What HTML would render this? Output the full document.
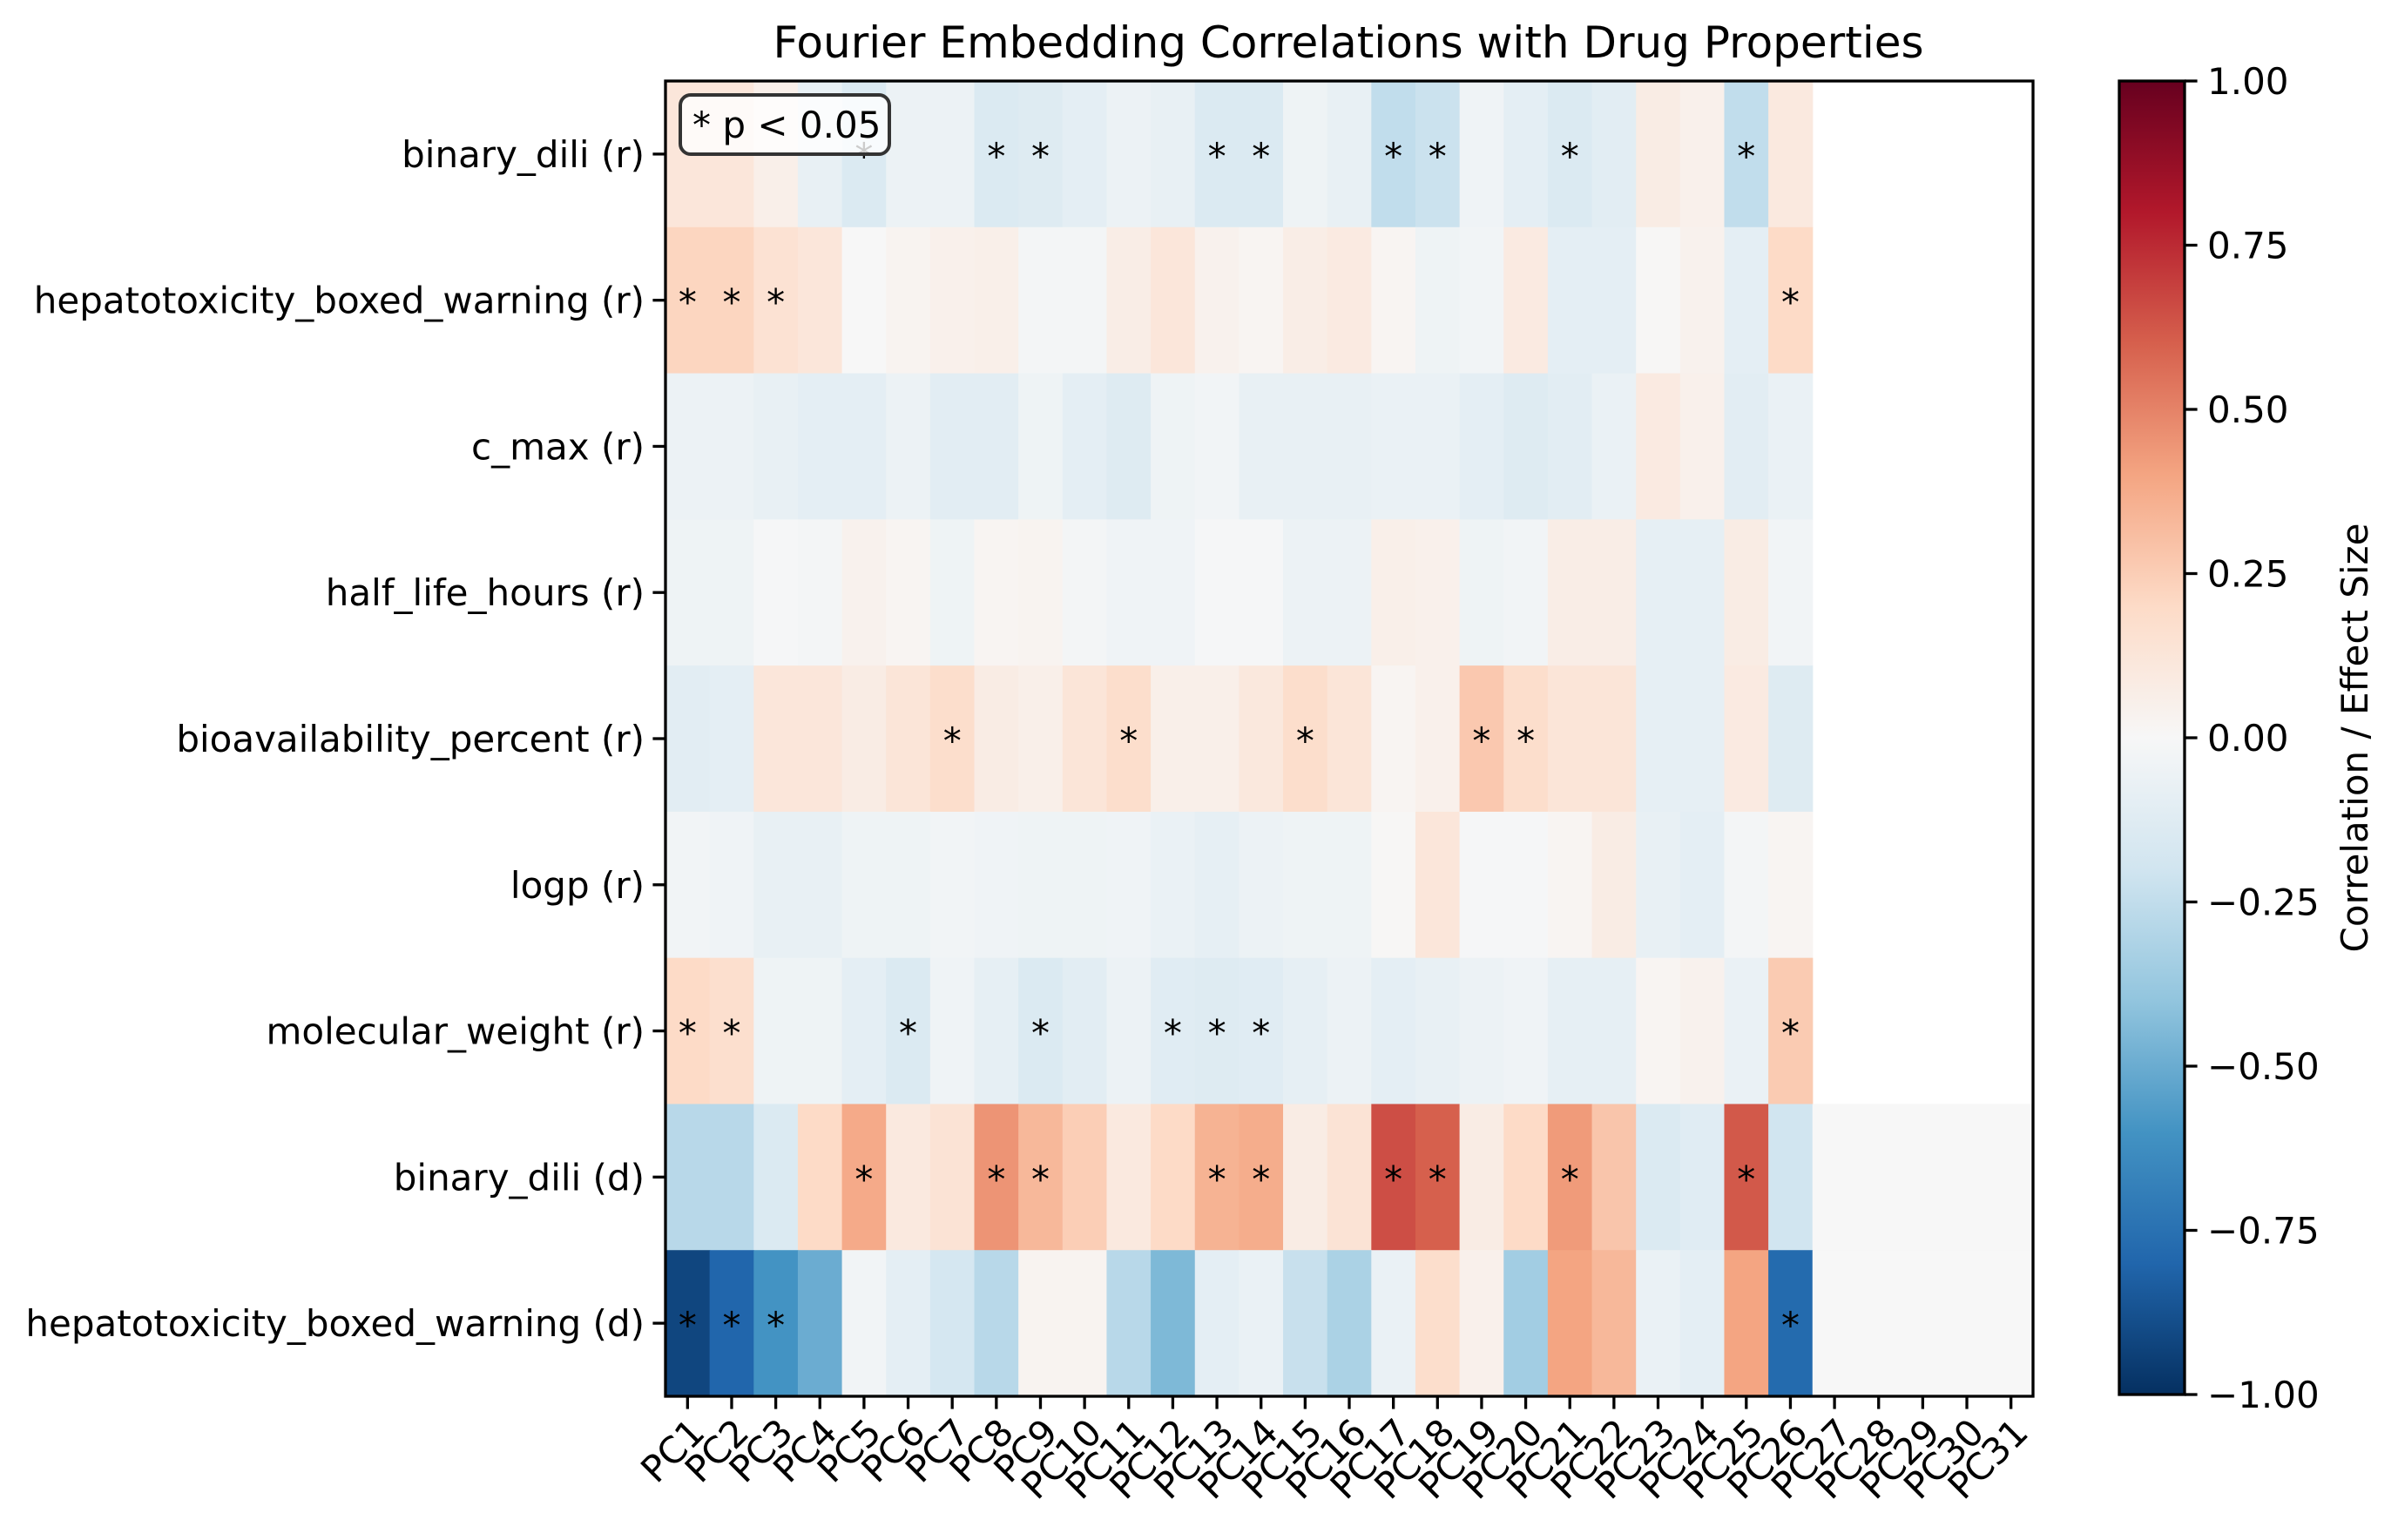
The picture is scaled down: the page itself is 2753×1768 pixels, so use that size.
<!DOCTYPE html>
<html><head><meta charset="utf-8">
<style>
html,body{margin:0;padding:0;background:#fff;}
svg{display:block;font-family:"DejaVu Sans","Liberation Sans",sans-serif;}
</style></head>
<body>
<svg id="chart" width="2753" height="1768" viewBox="0 0 2753 1768" xmlns="http://www.w3.org/2000/svg">
  <rect x="0" y="0" width="2753" height="1768" fill="#fff"/>
  <text x="1548" y="66" font-size="50" text-anchor="middle">Fourier Embedding Correlations with Drug Properties</text>
  <g id="cells"></g>
  <g id="stars"></g>
  <g id="legend">
    <rect x="781" y="109" width="240" height="68" rx="12" ry="12" fill="#fff" fill-opacity="0.8" stroke="#333" stroke-width="4"/>
    <text x="795" y="158" font-size="42">* p &lt; 0.05</text>
  </g>
  <g id="axes"></g>
  <g id="cbar"></g>
  <text transform="translate(2718,847) rotate(-90)" font-size="42" text-anchor="middle">Correlation / Effect Size</text>
</svg>
<script>
const rowLabels = ["binary_dili (r)","hepatotoxicity_boxed_warning (r)","c_max (r)","half_life_hours (r)","bioavailability_percent (r)","logp (r)","molecular_weight (r)","binary_dili (d)","hepatotoxicity_boxed_warning (d)"];
const colLabels = ["PC1","PC2","PC3","PC4","PC5","PC6","PC7","PC8","PC9","PC10","PC11","PC12","PC13","PC14","PC15","PC16","PC17","PC18","PC19","PC20","PC21","PC22","PC23","PC24","PC25","PC26","PC27","PC28","PC29","PC30","PC31"];
const row0 = [0.12,0.12,0.06,-0.08,-0.15,-0.06,-0.06,-0.15,-0.13,-0.1,-0.06,-0.08,-0.15,-0.15,-0.05,-0.08,-0.25,-0.22,-0.04,-0.1,-0.15,-0.11,0.08,0.05,-0.25,0.1,null,null,null,null,null];
const row1 = [0.22,0.22,0.15,0.12,0.0,0.03,0.05,0.06,-0.02,-0.02,0.07,0.12,0.04,0.02,0.07,0.09,0.02,-0.05,-0.03,0.09,-0.1,-0.1,0.01,0.04,-0.1,0.2,null,null,null,null,null];
const row2 = [-0.06,-0.06,-0.08,-0.1,-0.1,-0.06,-0.11,-0.11,-0.05,-0.1,-0.13,-0.05,-0.03,-0.08,-0.08,-0.08,-0.07,-0.07,-0.1,-0.13,-0.11,-0.07,0.09,0.05,-0.11,-0.07,null,null,null,null,null];
const row3 = [-0.05,-0.05,-0.01,-0.02,0.04,0.02,-0.05,0.02,0.03,-0.02,-0.04,-0.04,-0.01,-0.01,-0.06,-0.06,0.06,0.05,-0.05,-0.03,0.07,0.07,-0.09,-0.09,0.08,-0.03,null,null,null,null,null];
const row4 = [-0.11,-0.1,0.12,0.12,0.08,0.13,0.18,0.08,0.06,0.13,0.18,0.06,0.06,0.11,0.18,0.13,0.02,0.05,0.27,0.18,0.13,0.13,-0.09,-0.09,0.09,-0.13,null,null,null,null,null];
const row5 = [-0.03,-0.04,-0.08,-0.08,-0.05,-0.05,-0.03,-0.04,-0.05,-0.05,-0.04,-0.07,-0.09,-0.06,-0.05,-0.05,0.01,0.12,-0.01,-0.01,0.02,0.08,-0.08,-0.1,-0.02,0.02,null,null,null,null,null];
const row6 = [0.2,0.17,-0.05,-0.05,-0.1,-0.15,-0.04,-0.09,-0.15,-0.11,-0.06,-0.12,-0.13,-0.12,-0.09,-0.06,-0.1,-0.08,-0.06,-0.04,-0.09,-0.09,0.02,0.04,-0.07,0.26,null,null,null,null,null];
const row7 = [-0.28,-0.28,-0.15,0.2,0.38,0.1,0.14,0.45,0.33,0.25,0.1,0.2,0.35,0.37,0.08,0.14,0.65,0.6,0.08,0.2,0.43,0.28,-0.15,-0.12,0.62,-0.2,0,0,0,0,0];
const row8 = [-0.92,-0.8,-0.6,-0.5,-0.03,-0.1,-0.18,-0.28,0.03,0.03,-0.28,-0.45,-0.1,-0.07,-0.23,-0.32,-0.07,0.18,0.05,-0.35,0.4,0.33,-0.07,-0.1,0.4,-0.78,0,0,0,0,0];
const values = [row0,row1,row2,row3,row4,row5,row6,row7,row8];
const sig0 = ["PC5","PC8","PC9","PC13","PC14","PC17","PC18","PC21","PC25"];
const sig1 = ["PC1","PC2","PC3","PC26"];
const sig4 = ["PC7","PC11","PC15","PC19","PC20"];
const sig6 = ["PC1","PC2","PC6","PC9","PC12","PC13","PC14","PC26"];
const sig7 = ["PC5","PC8","PC9","PC13","PC14","PC17","PC18","PC21","PC25"];
const sig8 = ["PC1","PC2","PC3","PC26"];
const sigRows = [sig0,sig1,[],[],sig4,[],sig6,sig7,sig8];
const cbarTicks = [1.0,0.75,0.5,0.25,0.0,-0.25,-0.5,-0.75,-1.0];

const NS="http://www.w3.org/2000/svg";
const L=764,R=2334,T=93,B=1603;
const cw=(R-L)/colLabels.length, rh=(B-T)/rowLabels.length;
const xPos=i=>L+i*cw, yPos=j=>T+j*rh;
const anchors=["#053061","#2166ac","#4393c3","#92c5de","#d1e5f0","#f7f7f7","#fddbc7","#f4a582","#d6604d","#b2182b","#67001f"];
function hex(h){return [1,3,5].map(k=>parseInt(h.substr(k,2),16));}
function color(v){
  let t=(Math.max(-1,Math.min(1,v))+1)/2*(anchors.length-1);
  let i=Math.min(Math.floor(t),anchors.length-2), f=t-i;
  let a=hex(anchors[i]), b=hex(anchors[i+1]);
  return "rgb("+a.map((x,k)=>Math.round(x+(b[k]-x)*f)).join(",")+")";
}
function el(tag,attrs,parent){const e=document.createElementNS(NS,tag);for(const k in attrs)e.setAttribute(k,attrs[k]);parent.appendChild(e);return e;}
const cells=document.getElementById("cells"), stars=document.getElementById("stars"), axes=document.getElementById("axes"), cbar=document.getElementById("cbar");
values.forEach((row,j)=>{
  row.forEach((v,i)=>{
    if(v===null) return;
    const r=el("rect",{x:xPos(i),y:yPos(j),width:cw+0.6,height:rh+0.6,fill:color(v)},cells);
    
    
  });
});
sigRows.forEach((list,j)=>{
  list.forEach(lbl=>{
    const i=colLabels.indexOf(lbl);
    const t=el("text",{x:xPos(i)+cw/2,y:yPos(j)+rh/2+17,"font-size":42,"text-anchor":"middle"},stars);
    t.textContent="*";
    
    
  });
});
const fr=el("rect",{x:L,y:T,width:R-L,height:B-T,fill:"none",stroke:"#000","stroke-width":3.3},axes);


rowLabels.forEach((lbl,j)=>{
  const y=yPos(j)+rh/2;
  const tk=el("line",{x1:L,x2:L-14.6,y1:y,y2:y,stroke:"#000","stroke-width":3.3},axes);
  
  
  const t=el("text",{x:L-24,y:y+15,"font-size":42,"text-anchor":"end"},axes);
  t.textContent=lbl;
  
  
});
colLabels.forEach((lbl,i)=>{
  const x=xPos(i)+cw/2;
  const tk=el("line",{x1:x,x2:x,y1:B,y2:B+14.6,stroke:"#000","stroke-width":3.3},axes);
  
  
  const t=el("text",{x:0,y:0,"font-size":42,"text-anchor":"end",transform:"translate("+(x+22)+","+(B+44)+") rotate(-45)"},axes);
  t.textContent=lbl;
  
  
});
const CL=2433,CR=2508,CT=93,CB=1601;
const cy=v=>CT+(1-v)/2*(CB-CT);
const defs=el("defs",{},cbar);
const g=el("linearGradient",{id:"cg",x1:0,y1:1,x2:0,y2:0},defs);
anchors.forEach((c,k)=>{el("stop",{offset:(k/(anchors.length-1)),"stop-color":c},g);});
const cr=el("rect",{x:CL,y:CT,width:CR-CL,height:CB-CT,fill:"url(#cg)",stroke:"#000","stroke-width":3.3},cbar);


cbarTicks.forEach(v=>{
  const y=cy(v);
  const tk=el("line",{x1:CR,x2:CR+14.6,y1:y,y2:y,stroke:"#000","stroke-width":3.3},cbar);
  
  
  const t=el("text",{x:CR+26,y:y+15,"font-size":42},cbar);
  t.textContent=v.toFixed(2).replace("-","\u2212");
  
  
});
document.getElementById("chart").insertBefore(document.getElementById("legend"),document.getElementById("axes"));
</script>
</body></html>
